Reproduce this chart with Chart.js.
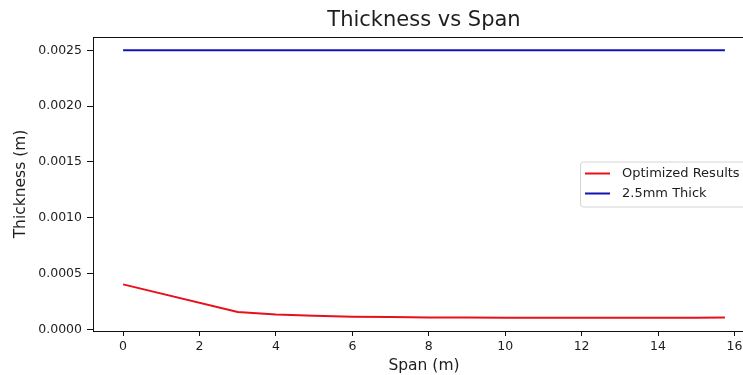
<!DOCTYPE html>
<html>
<head>
<meta charset="utf-8">
<script src="https://cdn.jsdelivr.net/npm/chart.js@4/dist/chart.umd.min.js"></script>
<style>
  html, body { margin: 0; padding: 0; background: #fff; overflow: hidden; }
</style>
</head>
<body>
<canvas id="thickness-chart" width="770" height="375"></canvas>
<script>
// Span positions (m) and optimized thickness (m) at each one
const spanPoints = [0, 3, 4, 5, 6, 7, 8, 9, 10, 11, 12, 13, 14, 15, 15.75];
const optimizedThickness = [
  0.000403, 0.000155, 0.000133, 0.000122, 0.000114, 0.00011, 0.000107,
  0.000106, 0.000105, 0.000105, 0.000105, 0.000105, 0.000105, 0.000105,
  0.000106,
];
// Reference plate: constant 2.5 mm
const referenceSpan = [0, 15.75];
const referenceThickness = [0.0025, 0.0025];

// Tick labels
const xTicks = [0, 2, 4, 6, 8, 10, 12, 14, 16];
const yTicks = [0, 0.0005, 0.001, 0.0015, 0.002, 0.0025];

const FONT = "'DejaVu Sans', sans-serif";
const TEXT = "#1e1e1e";

// Axis limits padded by 5% of the data range on each side
function paddedRange(values) {
  const lo = Math.min(...values);
  const hi = Math.max(...values);
  const m = (hi - lo) * 0.05;
  return { min: lo - m, max: hi + m };
}
const xRange = paddedRange(spanPoints.concat(referenceSpan));
const yRange = paddedRange(optimizedThickness.concat(referenceThickness));

const toXY = (xs, ys) => xs.map((x, i) => ({ x: x, y: ys[i] }));

// Title centred over the plot area
const titlePlugin = {
  id: "plotTitle",
  afterDraw(chart) {
    const { ctx, chartArea } = chart;
    ctx.save();
    ctx.font = "21px " + FONT;
    ctx.fillStyle = TEXT;
    ctx.textAlign = "center";
    ctx.textBaseline = "middle";
    ctx.fillText("Thickness vs Span", (chartArea.left + chartArea.right) / 2, 21);
    ctx.restore();
  },
};

// Box round the axes
const framePlugin = {
  id: "frame",
  afterDatasetsDraw(chart) {
    const { ctx, chartArea } = chart;
    ctx.save();
    ctx.strokeStyle = "#111";
    ctx.lineWidth = 1;
    ctx.strokeRect(
      Math.round(chartArea.left) + 0.5,
      Math.round(chartArea.top) + 0.5,
      Math.round(chartArea.right - chartArea.left),
      Math.round(chartArea.bottom - chartArea.top)
    );
    ctx.restore();
  },
};

// Legend box at the centre right, inside the axes
const legendPlugin = {
  id: "insideLegend",
  afterDraw(chart) {
    const { ctx, chartArea } = chart;
    const sets = chart.data.datasets;
    const rowH = 20;
    const boxW = 169;
    const boxH = 45;
    const right = chartArea.right - 6;
    const left = right - boxW;
    const top = (chartArea.top + chartArea.bottom) / 2 - boxH / 2;
    ctx.save();
    ctx.fillStyle = "rgba(255,255,255,0.8)";
    ctx.strokeStyle = "#d4d4d4";
    ctx.lineWidth = 1;
    ctx.beginPath();
    ctx.roundRect(left + 0.5, top + 0.5, boxW, boxH, 3);
    ctx.fill();
    ctx.stroke();
    ctx.font = "13px " + FONT;
    ctx.textBaseline = "middle";
    sets.forEach((ds, i) => {
      const y = top + 12 + i * rowH;
      ctx.strokeStyle = ds.borderColor;
      ctx.lineWidth = 2;
      ctx.beginPath();
      ctx.moveTo(left + 5, y);
      ctx.lineTo(left + 30, y);
      ctx.stroke();
      ctx.fillStyle = TEXT;
      ctx.fillText(ds.label, left + 42, y);
    });
    ctx.restore();
  },
};

const ctx = document.getElementById("thickness-chart").getContext("2d");
new Chart(ctx, {
  type: "line",
  data: {
    datasets: [
      {
        label: "Optimized Results",
        data: toXY(spanPoints, optimizedThickness),
        borderColor: "#e8101a",
        borderWidth: 2,
        pointRadius: 0,
        tension: 0,
      },
      {
        label: "2.5mm Thick",
        data: toXY(referenceSpan, referenceThickness),
        borderColor: "#1212b8",
        borderWidth: 2,
        pointRadius: 0,
        tension: 0,
      },
    ],
  },
  options: {
    responsive: false,
    animation: false,
    layout: { padding: { top: 37, right: 15, left: 0, bottom: 0 } },
    plugins: {
      legend: { display: false },
      title: { display: false },
      tooltip: { enabled: false },
    },
    scales: {
      x: {
        type: "linear",
        min: xRange.min,
        max: xRange.max,
        afterBuildTicks: (scale) => {
          scale.ticks = xTicks.map((v) => ({ value: v }));
        },
        afterFit: (scale) => {
          scale.height = 44;
        },
        grid: { drawOnChartArea: false, tickLength: 5, color: "#111" },
        border: { display: false },
        ticks: {
          padding: 3,
          color: TEXT,
          font: { family: FONT, size: 12.5 },
          maxRotation: 0,
          callback: (v) => String(v),
        },
        title: {
          display: true,
          text: "Span (m)",
          color: TEXT,
          font: { family: FONT, size: 15.5 },
          padding: { top: 0, bottom: 0 },
        },
      },
      y: {
        type: "linear",
        min: yRange.min,
        max: yRange.max,
        afterBuildTicks: (scale) => {
          scale.ticks = yTicks.map((v) => ({ value: v }));
        },
        afterFit: (scale) => {
          scale.width = 93;
        },
        grid: { drawOnChartArea: false, tickLength: 6, color: "#111" },
        border: { display: false },
        ticks: {
          padding: 5,
          color: TEXT,
          font: { family: FONT, size: 12.5 },
          callback: (v) => v.toFixed(4),
        },
        title: {
          display: true,
          text: "Thickness (m)",
          color: TEXT,
          font: { family: FONT, size: 15.5 },
          padding: { top: 12, bottom: 0 },
        },
      },
    },
  },
  plugins: [titlePlugin, framePlugin, legendPlugin],
});
</script>
</body>
</html>
